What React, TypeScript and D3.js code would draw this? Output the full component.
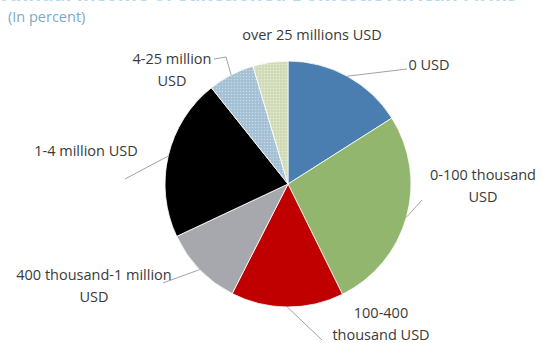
import React from "react";
import * as d3 from "d3";

const categories = [
  "0 USD",
  "0-100 thousand USD",
  "100-400 thousand USD",
  "400 thousand-1 million USD",
  "1-4 million USD",
  "4-25 million USD",
  "over 25 millions USD",
];
const values = [16.0, 26.7, 14.8, 10.5, 21.3, 6.1, 4.6];

const colors = ["#4a7db0", "#93b66e", "#c00000", "#a7a8ad", "#000000", "url(#dotBlue)", "url(#dotGreen)"];

// label layout: text lines, anchor x, first baseline y, leader end points
const labelLines = [
  ["0 USD"],
  ["0-100 thousand", "USD"],
  ["100-400", "thousand USD"],
  ["400 thousand-1 million", "USD"],
  ["1-4 million USD"],
  ["4-25 million", "USD"],
  ["over 25 millions USD"],
];
const labelPos: [number, number][] = [
  [429, 70],
  [483, 180],
  [381, 318],
  [94, 280],
  [86, 156],
  [172, 64],
  [312, 40],
];
const leaderEnds: ([number, number][] | null)[] = [
  [[407, 69]],
  [[422, 200]],
  [[322, 340]],
  [[163, 283]],
  [[125, 179]],
  [[226, 57], [214, 59]],
  null,
];

const W = 545;
const H = 343;
const cx = 288;
const cy = 184;
const R = 123;

export default function App() {
  const pie = d3.pie<number>().sort(null).value((d) => d);
  const arcs = pie(values);
  const arcGen = d3.arc<d3.PieArcDatum<number>>().innerRadius(0).outerRadius(R);
  const font = "'Open Sans', 'Noto Sans', sans-serif";

  return (
    <svg
      width={W}
      height={H}
      style={{ position: "absolute", left: 0, top: 0, background: "#fff" }}
      fontFamily={font}
    >
      <defs>
        <pattern id="dotBlue" width="3" height="3" patternUnits="userSpaceOnUse">
          <rect width="3" height="3" fill="#a9c4d8" />
          <rect x="0" y="0" width="1" height="1" fill="#c9dae6" />
          <rect x="1.5" y="1.5" width="1" height="1" fill="#97b5cb" />
        </pattern>
        <pattern id="dotGreen" width="3" height="3" patternUnits="userSpaceOnUse">
          <rect width="3" height="3" fill="#d5deba" />
          <rect x="0" y="0" width="1" height="1" fill="#e6ecd5" />
          <rect x="1.5" y="1.5" width="1" height="1" fill="#c6d1a9" />
        </pattern>
      </defs>
      <text
        x={2}
        y={1}
        fontSize={22}
        fontWeight="bold"
        fill="#b3d8ef"
        textLength={515}
        lengthAdjust="spacingAndGlyphs"
      >
        Annual Income of Sanctioned Domestic African Firms
      </text>
      <text x={8} y={22} fontSize={14.5} fill="#7ea9c6">
        (In percent)
      </text>
      <g transform={`translate(${cx},${cy})`}>
        {arcs.map((a, i) => (
          <path key={i} d={arcGen(a) || ""} fill={colors[i]} stroke="#ffffff" strokeWidth={0.8} />
        ))}
      </g>
      {arcs.map((a, i) => {
        const ends = leaderEnds[i];
        if (!ends) return null;
        const mid = (a.startAngle + a.endAngle) / 2;
        const sx = cx + R * Math.sin(mid);
        const sy = cy - R * Math.cos(mid);
        const pts = [[sx, sy], ...ends] as [number, number][];
        return (
          <path
            key={"l" + i}
            d={d3.line()(pts) || ""}
            fill="none"
            stroke="#8a8a8a"
            strokeWidth={0.8}
          />
        );
      })}
      {categories.map((c, i) => (
        <text
          key={"t" + i}
          x={labelPos[i][0]}
          y={labelPos[i][1]}
          fontSize={14.5}
          fill="#3a3a3a"
          textAnchor="middle"
        >
          {labelLines[i].map((ln, j) => (
            <tspan key={j} x={labelPos[i][0]} dy={j === 0 ? 0 : 21.5}>
              {ln}
            </tspan>
          ))}
        </text>
      ))}
    </svg>
  );
}
